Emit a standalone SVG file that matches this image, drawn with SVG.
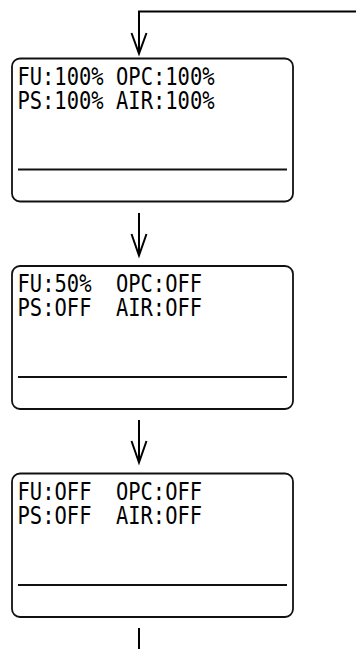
<svg xmlns="http://www.w3.org/2000/svg" width="356" height="649" viewBox="0 0 356 649">
<defs>
<style>
.box{fill:#fff;stroke:#111;stroke-width:1.8}
.sep{stroke:#111;stroke-width:2.2}
.ln{fill:none;stroke:#000;stroke-width:2}
.t{font-family:"DejaVu Sans Mono","Liberation Mono",monospace;font-size:24px;fill:#000}
</style>
<marker id="ah" markerWidth="20" markerHeight="24" refX="8" refY="21" orient="auto-start-reverse" markerUnits="userSpaceOnUse" viewBox="0 0 16 24">
<path d="M0.5,1 L8,21 L15.5,1" fill="none" stroke="#000" stroke-width="2"/>
</marker>
</defs>
<rect width="356" height="649" fill="#fff"/>
<g id="connectors">
<path class="ln" d="M356,11.5 H139 V53"/>
<path d="M131.5,33 L139,53.5 L146.5,33" class="ln"/>
<path class="ln" d="M139,213 V255"/>
<path d="M131.5,234 L139,255.5 L146.5,234" class="ln"/>
<path class="ln" d="M139,420 V462"/>
<path d="M131.5,441 L139,462.5 L146.5,441" class="ln"/>
<path class="ln" d="M139,628 V649"/>
</g>
<g id="node1">
<rect class="box" x="12" y="58.5" width="281" height="143" rx="8"/>
<line class="sep" x1="18" y1="169.5" x2="287" y2="169.5"/>
<text class="t" x="17.5" y="84.5" textLength="86" lengthAdjust="spacingAndGlyphs">FU:100%</text>
<text class="t" x="116" y="84.5" textLength="98.5" lengthAdjust="spacingAndGlyphs">OPC:100%</text>
<text class="t" x="17.5" y="108.5" textLength="86" lengthAdjust="spacingAndGlyphs">PS:100%</text>
<text class="t" x="116" y="108.5" textLength="98.5" lengthAdjust="spacingAndGlyphs">AIR:100%</text>
</g>
<g id="node2">
<rect class="box" x="12" y="266" width="281" height="143" rx="8"/>
<line class="sep" x1="18" y1="377" x2="287" y2="377"/>
<text class="t" x="17.5" y="292" textLength="74" lengthAdjust="spacingAndGlyphs">FU:50%</text>
<text class="t" x="116" y="292" textLength="86" lengthAdjust="spacingAndGlyphs">OPC:OFF</text>
<text class="t" x="17.5" y="316" textLength="74" lengthAdjust="spacingAndGlyphs">PS:OFF</text>
<text class="t" x="116" y="316" textLength="86" lengthAdjust="spacingAndGlyphs">AIR:OFF</text>
</g>
<g id="node3">
<rect class="box" x="12" y="473.5" width="281" height="143.5" rx="8"/>
<line class="sep" x1="18" y1="585" x2="287" y2="585"/>
<text class="t" x="17.5" y="499.5" textLength="74" lengthAdjust="spacingAndGlyphs">FU:OFF</text>
<text class="t" x="116" y="499.5" textLength="86" lengthAdjust="spacingAndGlyphs">OPC:OFF</text>
<text class="t" x="17.5" y="523.5" textLength="74" lengthAdjust="spacingAndGlyphs">PS:OFF</text>
<text class="t" x="116" y="523.5" textLength="86" lengthAdjust="spacingAndGlyphs">AIR:OFF</text>
</g>
</svg>
